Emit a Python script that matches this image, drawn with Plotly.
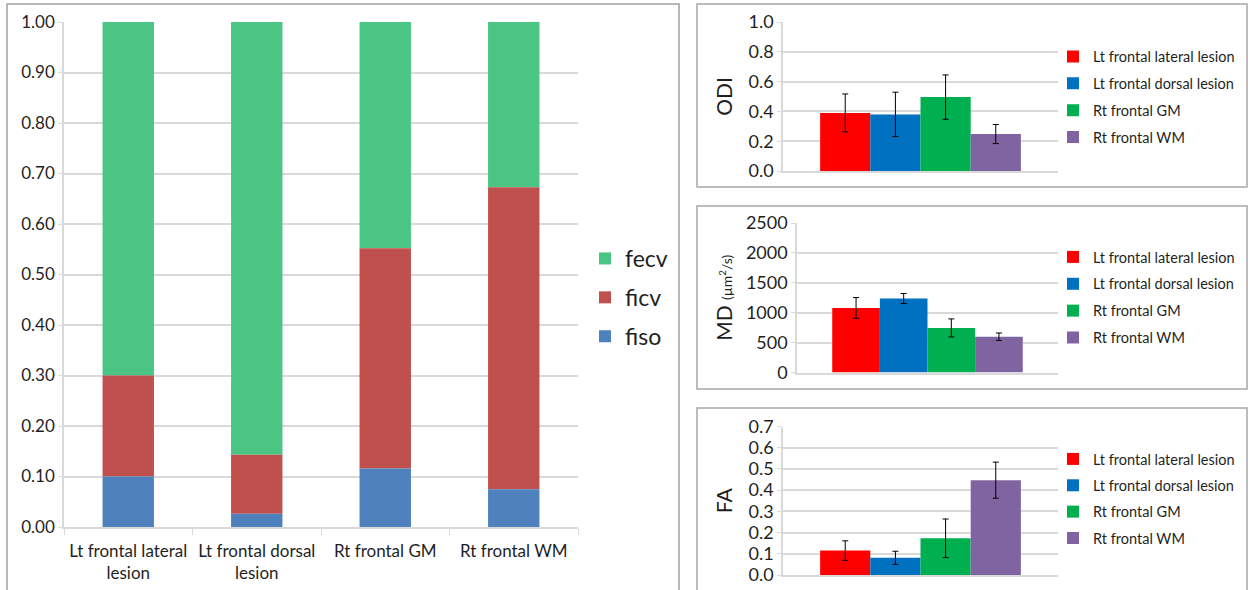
import plotly.graph_objects as go

# Compartment volume fractions per region (NODDI)
categories = ["Lt frontal lateral<br>lesion", "Lt frontal dorsal<br>lesion", "Rt frontal GM", "Rt frontal WM"]
fiso = [0.100, 0.026, 0.116, 0.075]
ficv = [0.200, 0.117, 0.436, 0.598]
fecv = [0.700, 0.857, 0.448, 0.327]

# Regional means and error bars for the three diffusion metrics
regions = ["Lt frontal lateral lesion", "Lt frontal dorsal lesion", "Rt frontal GM", "Rt frontal WM"]
region_colors = ["#FF0000", "#0070C0", "#00B050", "#8064A2"]
odi_mean = [0.390, 0.380, 0.496, 0.248]
odi_err = [0.127, 0.149, 0.149, 0.064]
md_mean = [1080, 1237, 745, 599]
md_err = [173, 84, 151, 62]
fa_mean = [0.115, 0.081, 0.173, 0.447]
fa_err = [0.046, 0.031, 0.091, 0.085]

W, H = 1248, 590
FONT = "Lato"
TXT = "#1f1f1f"
GRID = "#D9D9D9"


def px_x(v):
    return v / W


def px_y(v):
    return 1 - v / H


fig = go.Figure()

# stacked fractions: each layer starts on top of the ones below it
base_fiso = [0] * len(fiso)
base_ficv = list(fiso)
base_fecv = [a + b for a, b in zip(fiso, ficv)]
layers = [
    ("fecv", fecv, base_fecv, "#4BC584"),
    ("ficv", ficv, base_ficv, "#C0504D"),
    ("fiso", fiso, base_fiso, "#4F81BD"),
]
for name, vals, base, col in layers:
    fig.add_trace(go.Bar(
        x=categories, y=vals, base=base, name=name, width=0.4,
        offsetgroup="frac", marker=dict(color=col, line=dict(width=0)),
        xaxis="x", yaxis="y", legend="legend", legendgroup=name,
    ))

panels = [
    ("x2", "y2", "legend2", "ODI", odi_mean, odi_err),
    ("x3", "y3", "legend3", "MD", md_mean, md_err),
    ("x4", "y4", "legend4", "FA", fa_mean, fa_err),
]
for xa, ya, lg, key, means, errs in panels:
    for reg, col, m, e in zip(regions, region_colors, means, errs):
        fig.add_trace(go.Bar(
            x=[key], y=[m], name=reg, marker=dict(color=col, line=dict(width=0)),
            error_y=dict(type="data", array=[e], color="#000000", thickness=1, width=3),
            xaxis=xa, yaxis=ya, legend=lg, legendgroup=key + reg,
        ))


def y_axis(size, **kw):
    d = dict(
        showgrid=True, gridcolor=GRID, gridwidth=1.5, zeroline=False,
        showline=True, linecolor=GRID, linewidth=1.5, automargin=False,
        ticks="outside", ticklen=4, tickcolor=GRID,
        tickfont=dict(family=FONT, size=size, color=TXT),
    )
    d.update(kw)
    return d


def small_x(dom, anchor):
    return dict(domain=dom, anchor=anchor, showticklabels=False, automargin=False,
                showline=True, linecolor=GRID, linewidth=1.5)


def legend_at(x, y, size, gap):
    return dict(x=px_x(x), y=px_y(y), xanchor="left", yanchor="top",
                traceorder="grouped", tracegroupgap=gap,
                font=dict(family=FONT, size=size, color=TXT), bgcolor="rgba(0,0,0,0)")


title_font = dict(family=FONT, size=21, color=TXT)

fig.update_layout(
    width=W, height=H, margin=dict(l=0, r=0, t=0, b=0, autoexpand=False),
    paper_bgcolor="white", plot_bgcolor="white",
    barmode="group", bargap=0.27, bargroupgap=0,
    font=dict(family=FONT, color=TXT),
    xaxis=dict(
        domain=[px_x(64), px_x(578)], anchor="y", automargin=False,
        showline=True, linecolor=GRID, linewidth=1.5,
        ticks="outside", tickson="boundaries", ticklen=6, tickcolor=GRID,
        ticklabelstandoff=8,
        tickfont=dict(family=FONT, size=17, color=TXT),
    ),
    yaxis=y_axis(17, domain=[px_y(527), px_y(22)], anchor="x", range=[0, 1],
                 dtick=0.1, tickformat=".2f"),
    xaxis2=small_x([px_x(783), px_x(1058)], "y2"),
    yaxis2=y_axis(18, domain=[px_y(171), px_y(22)], anchor="x2", range=[0, 1], dtick=0.2,
                  tickformat=".1f", title=dict(text="ODI", font=title_font, standoff=10)),
    xaxis3=small_x([px_x(797), px_x(1058)], "y3"),
    yaxis3=y_axis(18, domain=[px_y(372.5), px_y(223)], anchor="x3", range=[0, 2500], dtick=500,
                  tickformat="d",
                  title=dict(text="MD <span style='font-size:14px'>(µm<sup>2</sup>/s)</span>",
                             font=title_font, standoff=8)),
    xaxis4=small_x([px_x(783), px_x(1058)], "y4"),
    yaxis4=y_axis(18, domain=[px_y(575), px_y(426.5)], anchor="x4", range=[0, 0.7], dtick=0.1,
                  tickformat=".1f", title=dict(text="FA", font=title_font, standoff=10)),
    legend=legend_at(585, 237, 23, 6),
    legend2=legend_at(1053, 40.5, 14.5, 5),
    legend3=legend_at(1053, 241, 14.5, 5),
    legend4=legend_at(1053, 443, 14.5, 4.5),
)

# chart frames
frames = [
    (7, 4, 679, 600, "#A0A0A0"),
    (697, 4, 1247, 187, "#A6A6A6"),
    (697, 206, 1247, 389, "#A6A6A6"),
    (697, 408, 1247, 600, "#A6A6A6"),
]
for x0, y0, x1, y1, c in frames:
    fig.add_shape(type="rect", xref="paper", yref="paper",
                  x0=px_x(x0), x1=px_x(x1), y0=px_y(y1), y1=px_y(y0),
                  line=dict(color=c, width=1.5), fillcolor="rgba(0,0,0,0)", layer="below")

fig.write_html("out.html")
